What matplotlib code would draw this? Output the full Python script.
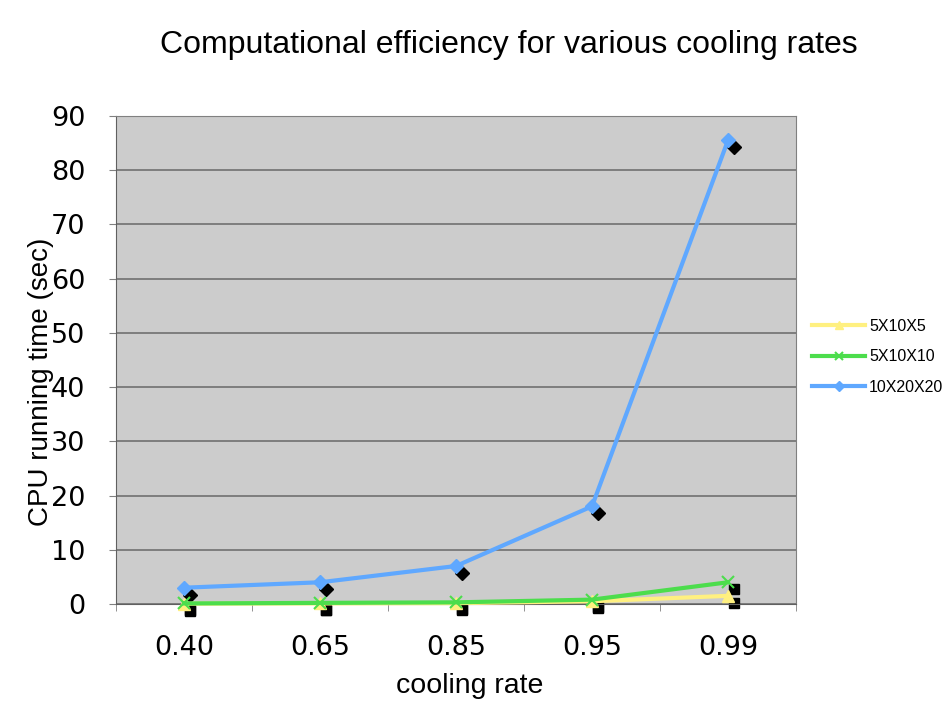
import matplotlib
matplotlib.use('Agg')
from matplotlib import pyplot as plt
from matplotlib.transforms import ScaledTranslation

# dados
taxas = ['0.40', '0.65', '0.85', '0.95', '0.99']
t_5x10x5 = [0.05, 0.1, 0.15, 0.5, 1.5]
t_5x10x10 = [0.1, 0.2, 0.3, 0.8, 4.0]
t_10x20x20 = [3.0, 4.0, 7.0, 18.0, 85.5]

fig = plt.figure(figsize=(9.42, 7.05), dpi=100)
ax = fig.add_axes([0.1231, 0.1433, 0.7219, 0.6922])
ax.set_facecolor('#cccccc')

x = list(range(len(taxas)))

# "sombras" pretas deslocadas dos marcadores
sombra = ax.transData + ScaledTranslation(6/100, -7/100, fig.dpi_scale_trans)
ax.plot(x, t_10x20x20, 'D', color='black', ms=7.5, transform=sombra, zorder=2, clip_on=False)
ax.plot(x, t_5x10x10, 's', color='black', ms=7.5, transform=sombra, zorder=2, clip_on=False)
ax.plot(x, t_5x10x5, 's', color='black', ms=7.5, transform=sombra, zorder=2, clip_on=False)

ax.plot(x, t_5x10x5, color='#fff080', lw=3, marker='^', ms=8, label='5X10X5', zorder=3, clip_on=False)
ax.plot(x, t_5x10x10, color='#4cdd4c', lw=3, marker='x', ms=8, mew=1.5, label='5X10X10', zorder=4, clip_on=False)
ax.plot(x, t_10x20x20, color='#5fa8ff', lw=3, marker='D', ms=7, label='10X20X20', zorder=5, clip_on=False)

ax.set_xlim(-0.5, 4.5)
ax.set_ylim(0, 90)
ax.set_yticks(range(0, 91, 10))
ax.set_xticks(x)
ax.set_xticklabels(taxas)
ax.set_xticks([i - 0.5 for i in range(6)], minor=True)
ax.tick_params(axis='x', which='major', length=0, pad=22, labelsize=19.5)
ax.tick_params(axis='x', which='minor', length=5, color='#808080')
ax.tick_params(axis='y', length=5, color='#808080', labelsize=19.5, pad=17)
ax.grid(axis='y', color='#707070', lw=1.2)
ax.set_axisbelow(True)
for s in ['top', 'right']:
    ax.spines[s].set_color('#808080')
ax.spines['left'].set_color('#606060')
ax.spines['bottom'].set_color('#606060')

fig.text(0.54, 0.936, 'Computational efficiency for various cooling rates',
         ha='center', va='center', fontsize=23, family='Liberation Sans')
fig.text(0.499, 0.027, 'cooling rate', ha='center', va='center', fontsize=20.5, family='Liberation Sans')
fig.text(0.044, 0.458, 'CPU running time (sec)', ha='center', va='center', rotation=90,
         fontsize=20, family='Liberation Sans')

fig.legend(loc='upper left', bbox_to_anchor=(0.847, 0.568), frameon=False,
           handlelength=3.3, labelspacing=0.97, handletextpad=0.25,
           prop={'family': 'Liberation Sans', 'size': 11.5}, markerscale=0.7)

plt.savefig('out.png', dpi=100)
